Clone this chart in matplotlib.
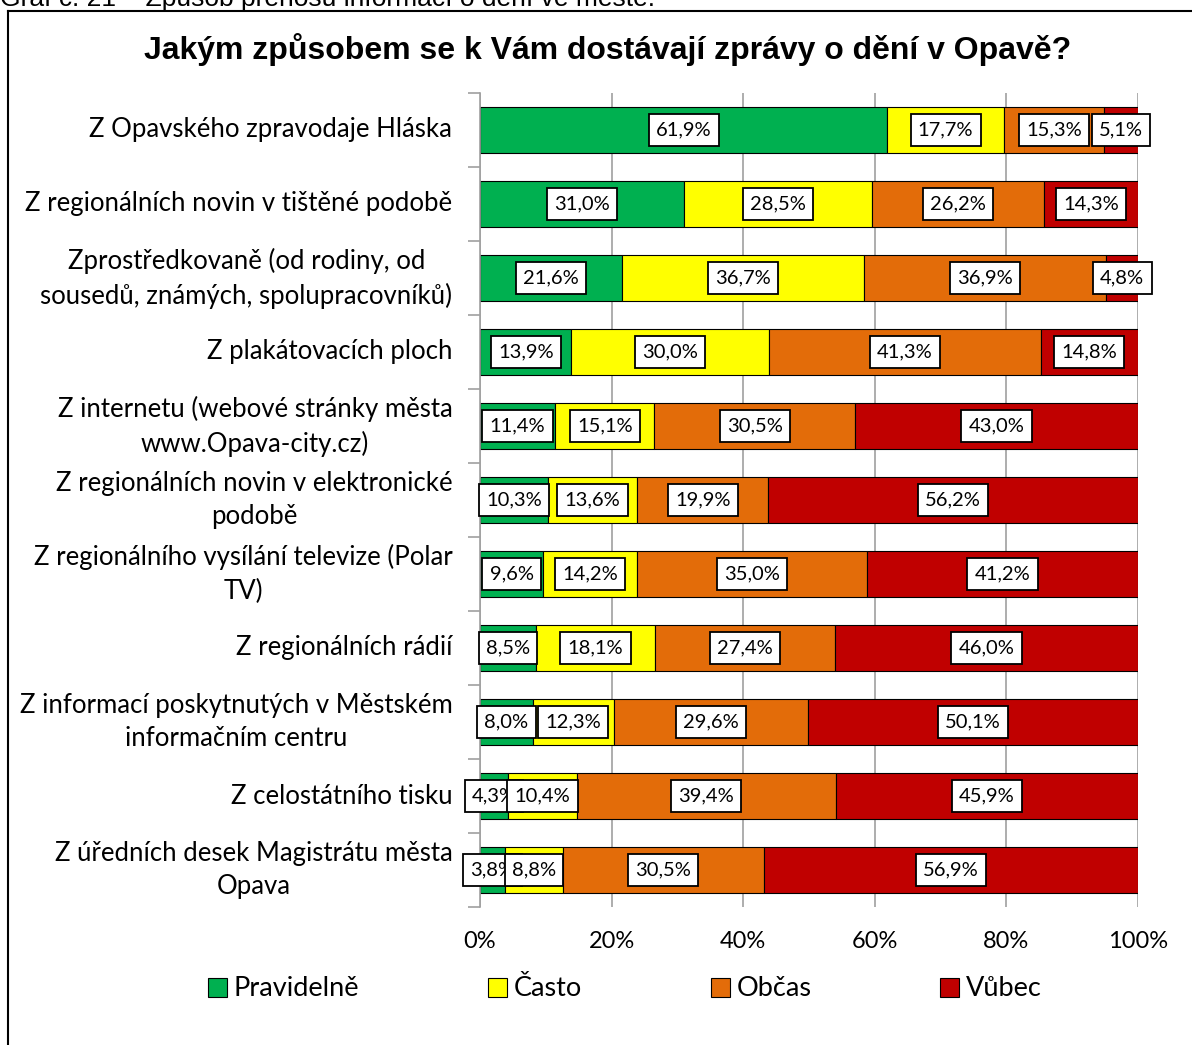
import matplotlib.pyplot as plt
from matplotlib.lines import Line2D
import numpy as np

categories = [
    'Z Opavského zpravodaje Hláska',
    'Z regionálních novin v tištěné podobě',
    'Zprostředkovaně (od rodiny, od\nsousedů, známých, spolupracovníků)',
    'Z plakátovacích ploch',
    'Z internetu (webové stránky města\nwww.Opava-city.cz)',
    'Z regionálních novin v elektronické\npodobě',
    'Z regionálního vysílání televize (Polar\nTV)',
    'Z regionálních rádií',
    'Z informací poskytnutých v Městském\ninformačním centru',
    'Z celostátního tisku',
    'Z úředních desek Magistrátu města\nOpava',
]
pravidelne = [61.9, 31.0, 21.6, 13.9, 11.4, 10.3, 9.6, 8.5, 8.0, 4.3, 3.8]
casto = [17.7, 28.5, 36.7, 30.0, 15.1, 13.6, 14.2, 18.1, 12.3, 10.4, 8.8]
obcas = [15.3, 26.2, 36.9, 41.3, 30.5, 19.9, 35.0, 27.4, 29.6, 39.4, 30.5]
vubec = [5.1, 14.3, 4.8, 14.8, 43.0, 56.2, 41.2, 46.0, 50.1, 45.9, 56.9]
series_names = ['Pravidelně', 'Často', 'Občas', 'Vůbec']
colors = ['#00B050', '#FFFF00', '#E36C09', '#C00000']

font = 'Lato'

fig = plt.figure(figsize=(11.92, 10.45), dpi=100)
ax = fig.add_axes([480 / 1192, 138 / 1045, 658 / 1192, 814 / 1045])

y = np.arange(len(categories))
left = np.zeros(len(categories))
for vals, name, col in zip([pravidelne, casto, obcas, vubec], series_names, colors):
    vals = np.array(vals)
    ax.barh(y, vals, left=left, height=0.62, color=col, edgecolor='black',
            linewidth=0.8, label=name, zorder=2)
    for yi, l, v in zip(y, left, vals):
        ax.text(l + v / 2, yi, f'{v:.1f}%'.replace('.', ','), ha='center', va='center',
                fontsize=14.5, family=font, zorder=5,
                bbox=dict(boxstyle='square,pad=0.36', fc='white', ec='black', lw=1.3))
    left += vals

ax.set_xlim(0, 100)
ax.set_ylim(len(categories) - 0.5, -0.5)
ax.set_xticks(np.arange(0, 101, 20))
ax.set_xticklabels([f'{t}%' for t in range(0, 101, 20)], fontsize=17, family=font)
ax.xaxis.grid(True, color='#a0a0a0', lw=1.2, zorder=0)
ax.set_axisbelow(True)
ax.tick_params(axis='x', length=0, pad=17)

ax.set_yticks(np.arange(-0.5, len(categories), 1))
ax.set_yticklabels([])
ax.tick_params(axis='y', length=9, color='#a0a0a0', width=1.2)
for yi, cat in zip(y, categories):
    ax.text(-0.042, yi, cat, transform=ax.get_yaxis_transform(), ha='right', va='center',
            multialignment='center', fontsize=18.5, family=font, linespacing=1.42)

for s in ['top', 'right', 'bottom']:
    ax.spines[s].set_visible(False)
ax.spines['left'].set_color('#a0a0a0')
ax.spines['left'].set_linewidth(1.2)

fig.text(0.5 * (143 + 1072) / 1192, 1 - 50 / 1045,
         'Jakým způsobem se k Vám dostávají zprávy o dění v Opavě?',
         ha='center', va='center', fontsize=23, fontweight='bold', family='Liberation Sans')

ax.legend(loc='center', bbox_to_anchor=(625 / 1192, 1 - 989 / 1045),
          bbox_transform=fig.transFigure, ncol=4, frameon=False,
          prop={'family': font, 'size': 19.5}, handlelength=0.7, handleheight=0.7,
          handletextpad=0.25, columnspacing=4.75)

# caption cut off at the top
fig.text(0.0, 1 - 6 / 1045, 'Graf č. 21 – Způsob přenosu informací o dění ve městě.',
         ha='left', va='baseline', fontsize=19, family='Liberation Sans')

# outer frame
fig.add_artist(Line2D([8 / 1192, 8 / 1192], [0, 1 - 11 / 1045], transform=fig.transFigure,
                      color='black', lw=1.5))
fig.add_artist(Line2D([8 / 1192, 1], [1 - 11 / 1045, 1 - 11 / 1045], transform=fig.transFigure,
                      color='black', lw=1.5))

fig.savefig('out.png', dpi=100)
